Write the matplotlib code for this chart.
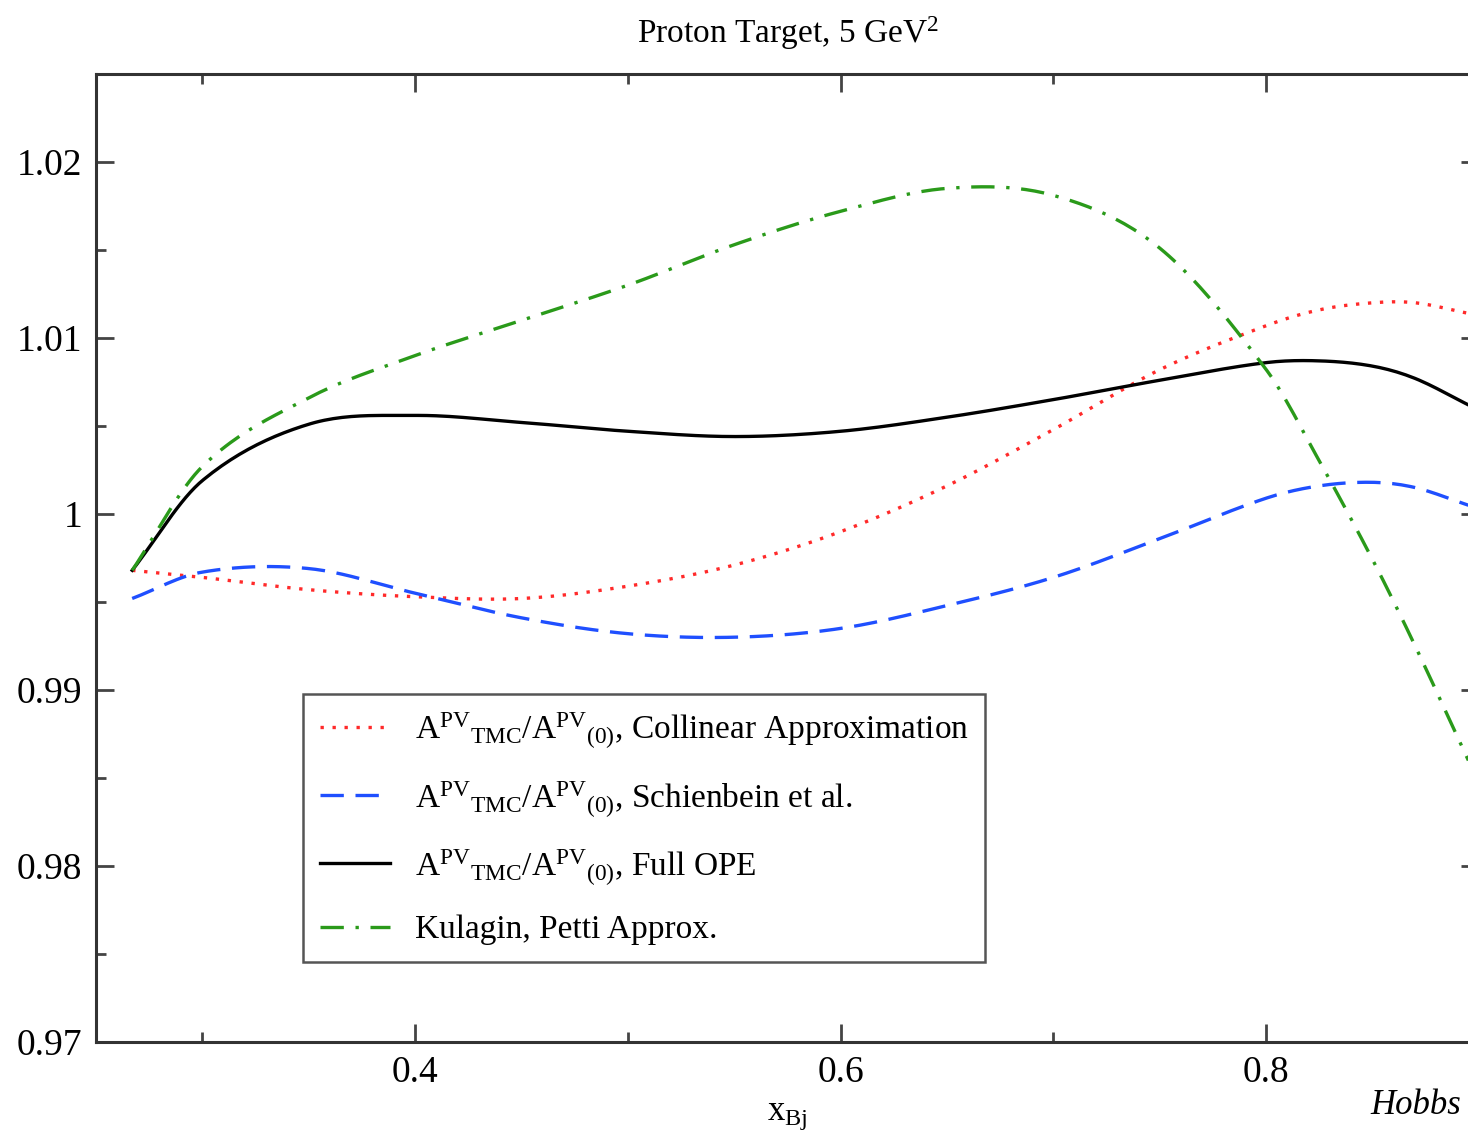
import matplotlib
matplotlib.use("Agg")
import matplotlib.pyplot as plt
import numpy as np

plt.rcParams['font.family'] = ['Liberation Serif', 'DejaVu Serif']
plt.rcParams['mathtext.fontset'] = 'custom'
plt.rcParams['mathtext.rm'] = 'Liberation Serif'
plt.rcParams['mathtext.it'] = 'Liberation Serif:italic'

# values
x_bj = [0.267, 0.30, 0.35, 0.40, 0.45, 0.50, 0.55, 0.60, 0.65, 0.70, 0.75, 0.80, 0.825, 0.85, 0.87, 0.895]

collinear = [0.9968, 0.9964, 0.9957, 0.9953, 0.9952, 0.9959, 0.9971, 0.9990, 1.0016, 1.0048, 1.0082,
             1.0107, 1.0116, 1.0120, 1.0120, 1.0114]
schienbein = [0.9952, 0.9967, 0.9969, 0.9955, 0.9941, 0.9932, 0.9930, 0.9935, 0.9948, 0.9964, 0.9986,
              1.0009, 1.0016, 1.0018, 1.0015, 1.0005]
full_ope = [0.9968, 1.0019, 1.0051, 1.0056, 1.0052, 1.0047, 1.0044, 1.0047, 1.0055, 1.0065, 1.0076,
            1.0086, 1.0087, 1.0084, 1.0077, 1.0062]
kp_approx = [0.9968, 1.0027, 1.0066, 1.0090, 1.0110, 1.0130, 1.0153, 1.0172, 1.0185, 1.0181, 1.0151,
             1.0082, 1.0030, 0.9974, 0.9925, 0.9860]

# smooth the read points a little for drawing
def smooth(xs, ys, n=300):
    xs = np.asarray(xs)
    ys = np.asarray(ys)
    xx = np.linspace(xs[0], xs[-1], n)
    # piecewise cubic through the points (Catmull-Rom)
    out = np.empty_like(xx)
    for k, xv in enumerate(xx):
        i = min(np.searchsorted(xs, xv) - 1, len(xs) - 2)
        i = max(i, 0)
        x0, x1 = xs[i], xs[i + 1]
        h = x1 - x0
        t = (xv - x0) / h
        m0 = (ys[i + 1] - ys[i - 1]) / (xs[i + 1] - xs[i - 1]) if i > 0 else (ys[1] - ys[0]) / (xs[1] - xs[0])
        m1 = (ys[i + 2] - ys[i]) / (xs[i + 2] - xs[i]) if i + 2 < len(xs) else (ys[-1] - ys[-2]) / (xs[-1] - xs[-2])
        h00 = 2 * t**3 - 3 * t**2 + 1
        h10 = t**3 - 2 * t**2 + t
        h01 = -2 * t**3 + 3 * t**2
        h11 = t**3 - t**2
        out[k] = h00 * ys[i] + h10 * h * m0 + h01 * ys[i + 1] + h11 * h * m1
    return xx, out

lab = r'$\mathrm{A}^{\mathrm{PV}}{}_{\mathrm{TMC}}/\mathrm{A}^{\mathrm{PV}}{}_{(0)}$'

fig = plt.figure(figsize=(14.68, 11.36), dpi=100)
ax = fig.add_axes([0.0654, 0.0827, 0.9421, 0.8522])

ax.plot(*smooth(x_bj, collinear), color='#ff2a2a', lw=2.4, ls=(0, (1, 2.6)), label=lab + ', Collinear Approximation')
ax.plot(*smooth(x_bj, schienbein), color='#1f4fff', lw=2.4, ls=(0, (7, 3.5)), label=lab + ', Schienbein et al.')
ax.plot(*smooth(x_bj, full_ope), color='black', lw=2.4, ls='-', label=lab + ', Full OPE')
ax.plot(*smooth(x_bj, kp_approx), color='#2a9a1a', lw=2.4, ls=(0, (7, 3.5, 1, 3.5)), label='Kulagin, Petti Approx.')

ax.set_xlim(0.25, 0.9)
ax.set_ylim(0.97, 1.025)
ax.set_xticks([0.4, 0.6, 0.8])
ax.set_xticks([0.3, 0.5, 0.7], minor=True)
ax.set_yticks([0.97, 0.98, 0.99, 1.0, 1.01, 1.02])
ax.set_yticklabels(['0.97', '0.98', '0.99', '1', '1.01', '1.02'])
ax.set_yticks([0.975, 0.985, 0.995, 1.005, 1.015], minor=True)
ax.tick_params(which='both', direction='in', top=True, right=True, labelsize=27, width=2, color='#444444')
ax.tick_params(which='major', length=13, pad=10)
ax.tick_params(which='minor', length=7)
for s in ax.spines.values():
    s.set_linewidth(2.2)
    s.set_color('#333333')

ax.set_title(r'Proton Target, 5 GeV$^2$', fontsize=24, pad=22)
ax.set_xlabel(r'x$_{\mathrm{Bj}}$', fontsize=25, labelpad=6)
fig.text(0.995, 0.019, 'Hobbs', fontsize=25, style='italic', ha='right')

leg = ax.legend(loc='lower left', bbox_to_anchor=(0.1497, 0.0826), borderaxespad=0, fontsize=24,
                fancybox=False, edgecolor='#555555', framealpha=1, handlelength=2.1, borderpad=0.5,
                labelspacing=0.85, handletextpad=0.75)
leg.get_frame().set_linewidth(1.8)

fig.savefig('out.png', dpi=100)
